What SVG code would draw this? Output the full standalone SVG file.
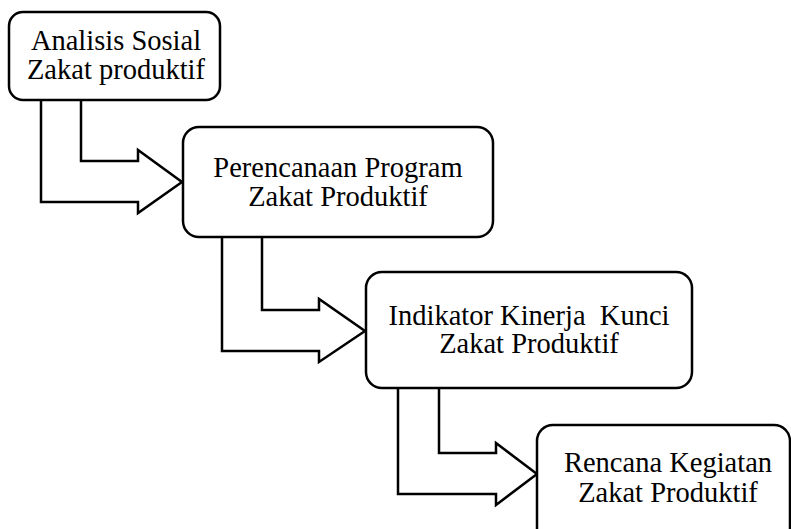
<svg xmlns="http://www.w3.org/2000/svg" width="791" height="529" viewBox="0 0 791 529">
<style>
.box{fill:#fff;stroke:#000;stroke-width:2.5}
.arr{fill:#fff;stroke:#000;stroke-width:2.5;stroke-linejoin:miter}
text{font-family:"Liberation Serif","Times New Roman",serif;font-size:28.5px;fill:#000;text-anchor:middle}
</style>
<rect width="791" height="529" fill="#fff"/>
<g id="connectors">
<path class="arr" d="M81,100 V161 H138 V150 L182,182 L138,213 V202 H41 V100"/>
<path class="arr" d="M262,237 V310 H319 V299 L365,331 L319,362 V351 H222 V237"/>
<path class="arr" d="M439,388 V453 H496 V443 L537,474 L496,505 V494 H398 V388"/>
</g>
<g id="node1">
<rect class="box" x="9" y="12" width="211" height="88" rx="14"/>
<text x="116" y="50">Analisis Sosial</text>
<text x="116" y="78.5">Zakat produktif</text>
</g>
<g id="node2">
<rect class="box" x="183" y="127" width="310" height="110" rx="16"/>
<text x="338" y="177">Perencanaan Program</text>
<text x="338" y="206">Zakat Produktif</text>
</g>
<g id="node3">
<rect class="box" x="366" y="272" width="326" height="116" rx="16"/>
<text x="529" y="324.5" xml:space="preserve">Indikator Kinerja  Kunci</text>
<text x="529" y="352.5">Zakat Produktif</text>
</g>
<g id="node4">
<rect class="box" x="537" y="425" width="253" height="122" rx="16"/>
<text x="668" y="472">Rencana Kegiatan</text>
<text x="668" y="502">Zakat Produktif</text>
</g>
</svg>
